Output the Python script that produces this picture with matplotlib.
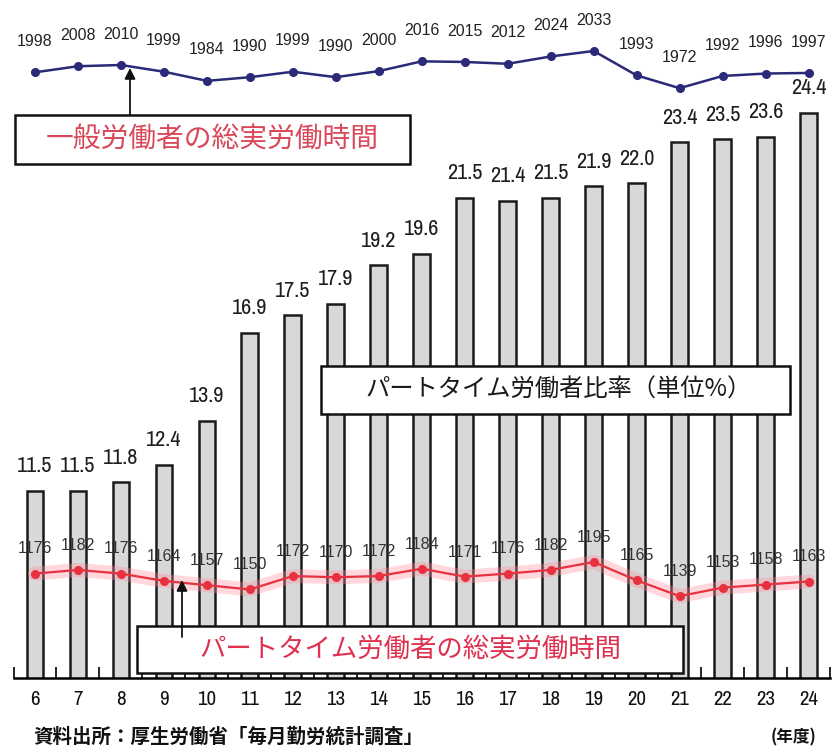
import matplotlib
matplotlib.use("Agg")
import numpy as np
import matplotlib.pyplot as plt
from matplotlib import font_manager
from matplotlib.patches import Rectangle, FancyArrowPatch

# Fiscal years (Heisei)
years = ["6", "7", "8", "9", "10", "11", "12", "13", "14", "15",
         "16", "17", "18", "19", "20", "21", "22", "23", "24"]
# Part-time worker ratio (%)
part_ratio = [11.5, 11.5, 11.8, 12.4, 13.9, 16.9, 17.5, 17.9, 19.2, 19.6,
              21.5, 21.4, 21.5, 21.9, 22.0, 23.4, 23.5, 23.6, 24.4]
# Total annual working hours, general workers
general_hours = [1998, 2008, 2010, 1999, 1984, 1990, 1999, 1990, 2000, 2016,
                 2015, 2012, 2024, 2033, 1993, 1972, 1992, 1996, 1997]
# Total annual working hours, part-time workers
part_hours = [1176, 1182, 1176, 1164, 1157, 1150, 1172, 1170, 1172, 1184,
              1171, 1176, 1182, 1195, 1165, 1139, 1153, 1158, 1163]

W, H = 835, 751

# Pick a narrow face for the numbers when one is installed
entries = font_manager.fontManager.ttflist
narrow_kw = {"family": "DejaVu Sans"}
narrow_found = False
for f in entries:
    if "Narrow" in f.name or "Condensed" in f.name:
        narrow_kw = {"family": f.name}
        narrow_found = True
        break
if not narrow_found:
    for f in entries:
        if f.name == "DejaVu Sans" and "Condensed" in f.fname:
            narrow_kw = {"family": "DejaVu Sans", "stretch": "condensed"}
            narrow_found = True
            break
bar_size = 16 if narrow_found else 13
tick_size = 15 if narrow_found else 12.5

num_font = "Liberation Sans" if any(f.name == "Liberation Sans" for f in entries) else "DejaVu Sans"
jp = ["Noto Sans CJK JP", "DejaVu Sans"]

fig = plt.figure(figsize=(W / 100, H / 100), dpi=100)
fig.patch.set_facecolor("white")


def fx(px):
    return px / W


def fy(py):
    return 1 - py / H


ax = fig.add_axes([fx(13.5), fy(678), fx(830) - fx(13.5), 678 / H])
x = np.arange(len(years))
ax.set_xlim(-0.5, 18.46)
ax.set_ylim(5.12, 28.26)

ax.bar(x, part_ratio, width=0.39, color="#d8d8d8", edgecolor="#1a1a1a",
       linewidth=1.8, zorder=2)
for xi, v in zip(x, part_ratio):
    ax.annotate(f"{v:.1f}", (xi, v), xytext=(0, 13.5), textcoords="offset points",
                ha="center", va="baseline", fontsize=bar_size, color="#1e1e1e",
                **narrow_kw)

for s in ("top", "left", "right"):
    ax.spines[s].set_visible(False)
ax.spines["bottom"].set_linewidth(1.8)
ax.set_yticks([])
ax.set_xticks(x, years)
ax.set_xticks(np.arange(-0.5, 19, 1), minor=True)
ax.tick_params(axis="x", which="major", length=0, pad=8.5, labelsize=tick_size,
               labelcolor="#111111")
ax.tick_params(axis="x", which="minor", direction="in", length=8, width=1.2)
for lab in ax.get_xticklabels():
    lab.set_fontproperties(font_manager.FontProperties(size=tick_size,
                                                       weight="bold",
                                                       **narrow_kw))

ax2 = ax.twinx()
ax2.set_ylim(1004.8, 2116.6)
ax2.set_yticks([])
for s in ax2.spines.values():
    s.set_visible(False)

# General workers' hours
ax2.plot(x, general_hours, color="#2a2a78", lw=1.8, marker="o", ms=5.5, zorder=3)
for xi, v in zip(x, general_hours):
    ax2.annotate(f"{v}", (xi, v), xytext=(0, 19), textcoords="offset points",
                 ha="center", va="baseline", fontsize=11.5, family=num_font,
                 color="#222222")

# Part-time workers' hours
ax2.plot(x, part_hours, color="#ff8fa0", lw=10, alpha=0.35,
         solid_capstyle="round", zorder=2)
ax2.plot(x, part_hours, color="#e8313f", lw=1.6, marker="o", ms=5.5, zorder=3)
for xi, v in zip(x, part_hours):
    ax2.annotate(f"{v}", (xi, v), xytext=(0, 14.5), textcoords="offset points",
                 ha="center", va="baseline", fontsize=11.5, family=num_font,
                 color="#333333")


def label_box(x0, y0, x1, y1, text, size, color, tx=None):
    fig.add_artist(Rectangle((fx(x0), fy(y1)), fx(x1) - fx(x0), fy(y0) - fy(y1),
                             transform=fig.transFigure, facecolor="white",
                             edgecolor="#111111", linewidth=1.8, zorder=5))
    cx = (x0 + x1) / 2 if tx is None else tx
    fig.text(fx(cx), fy((y0 + y1) / 2), text, ha="center",
             va="center", fontsize=size, family=jp, color=color, zorder=6)


label_box(15, 115, 410, 164, "一般労働者の総実労働時間", 20, "#d8485a")
label_box(321, 366, 790, 414, "パートタイム労働者比率（単位%）", 17.5, "#1a1a1a",
          tx=559)
label_box(137, 626, 683, 673, "パートタイム労働者の総実労働時間", 19, "#e0304f")


def arrow(xp, y_from, y_to):
    fig.add_artist(FancyArrowPatch((fx(xp), fy(y_from)), (fx(xp), fy(y_to)),
                                   transform=fig.transFigure, arrowstyle="-|>",
                                   mutation_scale=16, color="#111111", lw=1.3,
                                   shrinkA=0, shrinkB=0, zorder=7))


arrow(130, 115, 68)
arrow(182, 637, 580)

fig.text(fx(33), fy(737), "資料出所：厚生労働省「毎月勤労統計調査」", ha="left",
         va="center", fontsize=14, family=jp, weight="bold", color="#111111")
fig.text(fx(794), fy(737), "(年度)", ha="center", va="center", fontsize=12,
         family=jp, weight="bold", color="#111111")

fig.savefig("out.png", dpi=100)
